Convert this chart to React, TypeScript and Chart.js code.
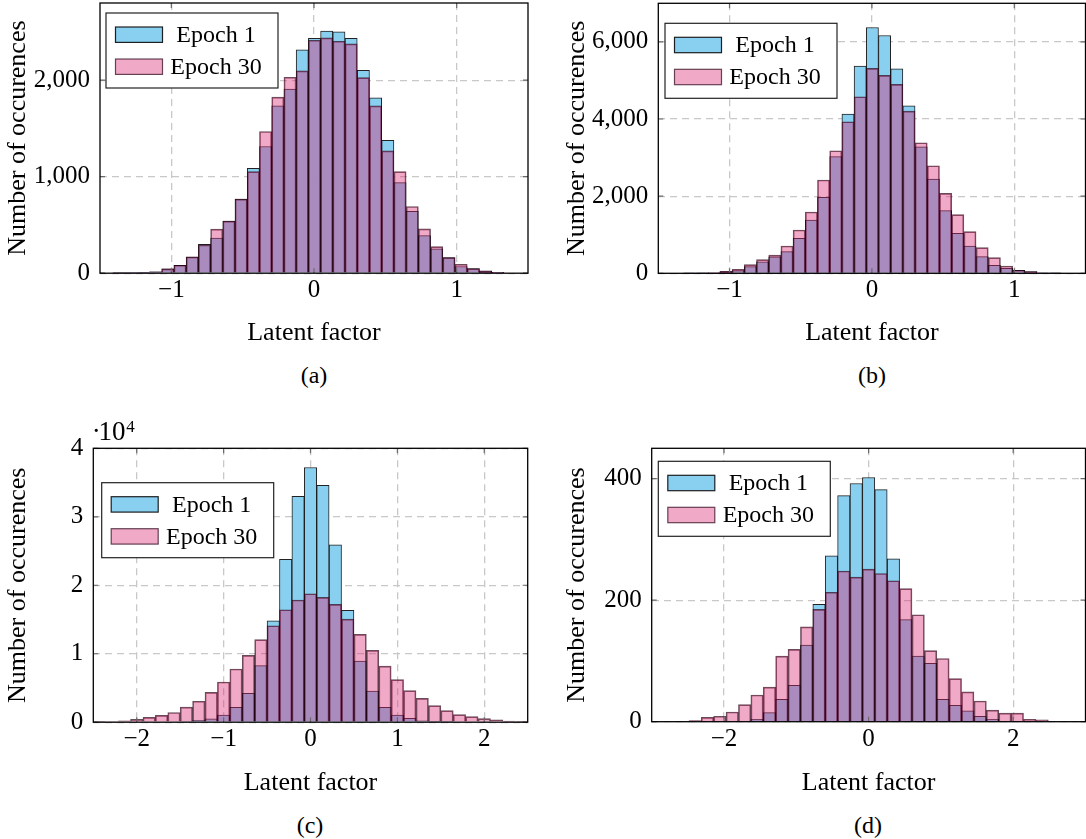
import React, { useEffect, useRef } from 'react';
import { Chart, registerables } from 'chart.js';

Chart.register(...registerables);

const SERIF = '"Liberation Serif", "Times New Roman", Times, serif';

// Bin centres of the histograms in panels (a) and (b)
const binsAB = [
  -1.3672, -1.2815, -1.1958, -1.1102, -1.0245, -0.9389, -0.8532, -0.7676,
  -0.6819, -0.5962, -0.5106, -0.4249, -0.3393, -0.2536, -0.1679, -0.0823,
  0.0034, 0.089, 0.1747, 0.2603, 0.346, 0.4317, 0.5173, 0.603,
  0.6886, 0.7743, 0.86, 0.9456, 1.0313, 1.1169, 1.2026, 1.2882,
];
// Bin centres for panel (c)
const binsC = [
  -2.4286, -2.2857, -2.1429, -2.0, -1.8571, -1.7143, -1.5714, -1.4286, -1.2857,
  -1.1429, -1.0, -0.8571, -0.7143, -0.5714, -0.4286, -0.2857, -0.1429, 0.0,
  0.1429, 0.2857, 0.4286, 0.5714, 0.7143, 0.8571, 1.0, 1.1429, 1.2857, 1.4286,
  1.5714, 1.7143, 1.8571, 2.0, 2.1429, 2.2857, 2.4286,
];
// Bin centres for panel (d)
const binsD = [
  -2.9143, -2.7429, -2.5714, -2.4, -2.2286, -2.0571, -1.8857, -1.7143, -1.5429,
  -1.3714, -1.2, -1.0286, -0.8571, -0.6857, -0.5143, -0.3429, -0.1714, 0.0,
  0.1714, 0.3429, 0.5143, 0.6857, 0.8571, 1.0286, 1.2, 1.3714, 1.5429, 1.7143,
  1.8857, 2.0571, 2.2286, 2.4, 2.5714, 2.7429, 2.9143,
];

// Occurrence counts per bin
const epoch1A = [1, 3, 6, 15, 45, 82, 168, 298, 363, 539, 767, 1088, 1313, 1734, 1907, 2314, 2435, 2508, 2501, 2435, 2103, 1817, 1378, 939, 642, 390, 252, 162, 69, 48, 21, 7];
const epoch30A = [1, 3, 6, 15, 45, 82, 170, 293, 456, 539, 767, 1053, 1468, 1824, 2031, 2097, 2414, 2438, 2404, 2376, 2027, 1734, 1268, 1053, 691, 459, 276, 162, 93, 48, 24, 8];

const epoch1B = [0, 1, 4, 14, 45, 69, 173, 300, 428, 561, 907, 1382, 1969, 3023, 4128, 5372, 6373, 6166, 5303, 4344, 3282, 2444, 1624, 1036, 708, 432, 207, 130, 78, 43, 8, 2];
const epoch30B = [0, 2, 6, 17, 52, 104, 225, 355, 470, 708, 1123, 1589, 2418, 3178, 3929, 4577, 5311, 5130, 4897, 4206, 3385, 2789, 2073, 1520, 1080, 665, 406, 190, 78, 43, 12, 4];

const epoch1C = [0, 0, 0, 0, 0, 0, 0, 100, 280, 480, 1050, 2180, 4220, 8260, 14820, 23780, 32980, 37200, 34580, 25910, 16330, 8940, 4560, 2180, 1050, 570, 200, 50, 20, 0, 0, 0, 0, 0, 0];
const epoch30C = [50, 100, 200, 420, 700, 1000, 1420, 2200, 3060, 4350, 5870, 7770, 9770, 12050, 14090, 16420, 17840, 18760, 18230, 17200, 15060, 12830, 10490, 8200, 6210, 4600, 3490, 2420, 1680, 1100, 810, 520, 330, 150, 50];

const epoch1D = [0, 0, 0, 0, 0, 0, 0, 1, 4, 15, 37, 60, 126, 193, 273, 372, 392, 402, 382, 268, 168, 108, 96, 37, 27, 18, 9, 4, 1, 0, 0, 0, 0, 0, 0];
const epoch30D = [0, 0, 1, 2, 7, 9, 16, 28, 44, 57, 108, 119, 156, 185, 213, 248, 238, 251, 244, 232, 219, 176, 117, 104, 71, 49, 34, 19, 14, 14, 4, 3, 0, 0, 0];

// Tick values
const xTicksAB = [-1, 0, 1];
const xTicksC = [-2, -1, 0, 1, 2];
const xTicksD = [-2, 0, 2];
const yTicksA = [0, 1000, 2000];
const yTicksB = [0, 2000, 4000, 6000];
const yTicksC = [0, 10000, 20000, 30000, 40000];
const yTicksD = [0, 200, 400];

const seriesLabels = ['Epoch 1', 'Epoch 30'];
const xTitle = 'Latent factor';
const yTitle = 'Number of occurences';

const BLUE = 'rgb(137, 207, 240)';
const BLUE_EDGE = 'rgba(10, 10, 10, 0.9)';
const PINK = 'rgba(217, 40, 112, 0.4)';
const PINK_EDGE = 'rgba(40, 0, 20, 0.7)';
const GRID = '#c8c8c8';

const withCommas = (v: number) => String(v).replace(/\B(?=(\d{3})+(?!\d))/g, ',');
const signed = (v: number) => (v < 0 ? '\u2212' + Math.abs(v) : String(v));

type Box = { L: number; T: number; R: number; B: number };
type Rect = { left: number; top: number; width: number; height: number };

type PanelSpec = {
  caption: string;
  bins: number[];
  epoch1: number[];
  epoch30: number[];
  xMin: number;
  xMax: number;
  yMax: number;
  xTicks: number[];
  yTicks: number[];
  yFormat: (v: number) => string;
  canvas: Rect;
  box: Box;
  yTitleX: number;
  xTitleY: number;
  captionX: number;
  captionY: number;
  legend: { dx: number; dy: number };
  multiplier: boolean;
};

const panels: PanelSpec[] = [
  {
    caption: '(a)', bins: binsAB, epoch1: epoch1A, epoch30: epoch30A,
    xMin: -1.5, xMax: 1.5, yMax: 2800, xTicks: xTicksAB, yTicks: yTicksA, yFormat: withCommas,
    canvas: { left: 0, top: 0, width: 543, height: 360 },
    box: { L: 100, T: 3, R: 528, B: 273.2 },
    yTitleX: 18, xTitleY: 333, captionX: 314, captionY: 375,
    legend: { dx: 6, dy: 10 }, multiplier: false,
  },
  {
    caption: '(b)', bins: binsAB, epoch1: epoch1B, epoch30: epoch30B,
    xMin: -1.5, xMax: 1.5, yMax: 7000, xTicks: xTicksAB, yTicks: yTicksB, yFormat: withCommas,
    canvas: { left: 543, top: 0, width: 543, height: 360 },
    box: { L: 658.3, T: 3.3, R: 1085.5, B: 273.3 },
    yTitleX: 577, xTitleY: 333, captionX: 872, captionY: 375,
    legend: { dx: 6.7, dy: 20 }, multiplier: false,
  },
  {
    caption: '(c)', bins: binsC, epoch1: epoch1C, epoch30: epoch30C,
    xMin: -2.5, xMax: 2.5, yMax: 40000, xTicks: xTicksC, yTicks: yTicksC, yFormat: (v) => String(v / 10000),
    canvas: { left: 0, top: 400, width: 543, height: 410 },
    box: { L: 93.3, T: 448.3, R: 527.7, B: 722.2 },
    yTitleX: 18, xTitleY: 783, captionX: 310, captionY: 825,
    legend: { dx: 8.4, dy: 34.4 }, multiplier: true,
  },
  {
    caption: '(d)', bins: binsD, epoch1: epoch1D, epoch30: epoch30D,
    xMin: -3, xMax: 3, yMax: 450, xTicks: xTicksD, yTicks: yTicksD, yFormat: (v) => String(v),
    canvas: { left: 543, top: 400, width: 543, height: 410 },
    box: { L: 651.7, T: 448.3, R: 1085.5, B: 721.7 },
    yTitleX: 577, xTitleY: 783, captionX: 868, captionY: 825,
    legend: { dx: 6.6, dy: 13 }, multiplier: false,
  },
];

// Frame, inner tick marks, in-plot legend and the axis multiplier
const decorPlugin = {
  id: 'panelDecor',
  afterDraw(chart: any, _args: any, opts: any) {
    const { ctx, chartArea: a } = chart;
    const xs = chart.scales.x;
    const ys = chart.scales.y;
    ctx.save();

    // inner tick marks on all four sides
    ctx.strokeStyle = '#6a6a6a';
    ctx.lineWidth = 1.2;
    ctx.beginPath();
    for (const t of xs.ticks) {
      const px = xs.getPixelForValue(t.value);
      ctx.moveTo(px, a.bottom); ctx.lineTo(px, a.bottom - 5);
      ctx.moveTo(px, a.top); ctx.lineTo(px, a.top + 5);
    }
    for (const t of ys.ticks) {
      const py = ys.getPixelForValue(t.value);
      ctx.moveTo(a.left, py); ctx.lineTo(a.left + 5, py);
      ctx.moveTo(a.right, py); ctx.lineTo(a.right - 5, py);
    }
    ctx.stroke();

    // frame
    ctx.strokeStyle = '#000';
    ctx.lineWidth = 1.3;
    ctx.strokeRect(a.left, a.top, a.right - a.left, a.bottom - a.top);

    // legend
    const lg = opts.legend;
    const bx = a.left + lg.dx;
    const by = a.top + lg.dy;
    const bw = 172;
    const bh = 75;
    ctx.fillStyle = '#fff';
    ctx.fillRect(bx, by, bw, bh);
    ctx.strokeStyle = '#222';
    ctx.lineWidth = 1.2;
    ctx.strokeRect(bx, by, bw, bh);
    const order = [1, 0];
    order.forEach((di: number, row: number) => {
      const ds = chart.data.datasets[di];
      const cy = by + 21.7 + row * 32;
      ctx.fillStyle = ds.backgroundColor;
      ctx.fillRect(bx + 9.5, cy - 7.7, 47, 15.4);
      ctx.strokeStyle = ds.borderColor;
      ctx.lineWidth = 1.2;
      ctx.strokeRect(bx + 9.5, cy - 7.7, 47, 15.4);
      ctx.fillStyle = '#000';
      ctx.font = `24px ${SERIF}`;
      ctx.textAlign = 'center';
      ctx.textBaseline = 'middle';
      ctx.fillText(ds.label, bx + 110, cy + 1);
    });

    // ·10^4 multiplier above the y axis
    if (opts.multiplier) {
      ctx.fillStyle = '#000';
      ctx.textAlign = 'left';
      ctx.textBaseline = 'alphabetic';
      ctx.font = `27px ${SERIF}`;
      ctx.fillText('\u00b7', a.left - 1.5, a.top - 8.3);
      ctx.fillText('10', a.left + 5.2, a.top - 8.3);
      ctx.font = `17px ${SERIF}`;
      ctx.fillText('4', a.left + 33, a.top - 16.6);
    }
    ctx.restore();
  },
};

function buildConfig(p: PanelSpec): any {
  const c = p.canvas;
  const b = p.box;
  const titleSize = 26;
  const titleLH = titleSize * 1.2;
  const tickFont = { family: SERIF, size: 25, lineHeight: 1.2 };
  const titleFont = { family: SERIF, size: titleSize, lineHeight: 1.2 };
  const gridOpts = { color: GRID, lineWidth: 1.3, drawTicks: false, offset: false };
  const borderOpts = { display: false, dash: [7, 5] };

  return {
    type: 'bar',
    data: {
      datasets: [
        {
          label: seriesLabels[1],
          data: p.bins.map((x, i) => ({ x, y: p.epoch30[i] })),
          backgroundColor: PINK,
          borderColor: PINK_EDGE,
          borderWidth: 1,
          grouped: false,
          order: 1,
          barPercentage: 1,
          categoryPercentage: 1,
        },
        {
          label: seriesLabels[0],
          data: p.bins.map((x, i) => ({ x, y: p.epoch1[i] })),
          backgroundColor: BLUE,
          borderColor: BLUE_EDGE,
          borderWidth: 1,
          grouped: false,
          order: 2,
          barPercentage: 1,
          categoryPercentage: 1,
        },
      ],
    },
    options: {
      responsive: false,
      animation: false,
      devicePixelRatio: 1,
      layout: {
        padding: { left: 0, top: b.T - c.top, right: c.left + c.width - b.R, bottom: 0 },
      },
      plugins: {
        legend: { display: false },
        tooltip: { enabled: false },
        panelDecor: { legend: p.legend, multiplier: p.multiplier },
      },
      scales: {
        x: {
          type: 'linear',
          min: p.xMin,
          max: p.xMax,
          offset: false,
          grid: gridOpts,
          border: borderOpts,
          ticks: {
            font: tickFont,
            color: '#000',
            padding: 2.5,
            maxRotation: 0,
            autoSkip: false,
            callback: (v: number) => signed(v),
          },
          afterBuildTicks: (s: any) => {
            s.ticks = p.xTicks.map((v) => ({ value: v }));
          },
          afterFit: (s: any) => {
            s.height = c.top + c.height - b.B;
            s.paddingLeft = 0;
            s.paddingRight = 0;
          },
          title: {
            display: true,
            text: xTitle,
            color: '#000',
            font: titleFont,
            padding: { top: 0, bottom: c.top + c.height - p.xTitleY - titleLH / 2 },
          },
        },
        y: {
          type: 'linear',
          min: 0,
          max: p.yMax,
          grid: gridOpts,
          border: borderOpts,
          ticks: {
            font: tickFont,
            color: '#000',
            padding: 10,
            autoSkip: false,
            callback: (v: number) => p.yFormat(v),
          },
          afterBuildTicks: (s: any) => {
            s.ticks = p.yTicks.map((v) => ({ value: v }));
          },
          afterFit: (s: any) => {
            s.width = b.L - c.left;
            s.paddingTop = 0;
            s.paddingBottom = 0;
          },
          title: {
            display: true,
            text: yTitle,
            color: '#000',
            font: titleFont,
            padding: { top: p.yTitleX - c.left - titleLH / 2, bottom: 0 },
          },
        },
      },
    },
    plugins: [decorPlugin],
  };
}

function HistogramPanel({ spec }: { spec: PanelSpec }) {
  const ref = useRef<HTMLCanvasElement>(null);
  useEffect(() => {
    if (!ref.current) return;
    const chart = new Chart(ref.current, buildConfig(spec));
    return () => chart.destroy();
  }, [spec]);
  const c = spec.canvas;
  return (
    <canvas
      ref={ref}
      width={c.width}
      height={c.height}
      style={{ position: 'absolute', left: c.left, top: c.top, width: c.width, height: c.height }}
    />
  );
}

export default function App() {
  return (
    <div
      style={{
        position: 'absolute',
        left: 0,
        top: 0,
        width: 1086,
        height: 839,
        overflow: 'hidden',
        background: '#fff',
        fontFamily: SERIF,
      }}
    >
      {panels.map((p) => (
        <HistogramPanel key={p.caption} spec={p} />
      ))}
      {panels.map((p) => (
        <div
          key={'caption' + p.caption}
          style={{
            position: 'absolute',
            left: p.captionX - 40,
            top: p.captionY - 14,
            width: 80,
            textAlign: 'center',
            fontSize: 24,
            lineHeight: '28px',
            color: '#000',
          }}
        >
          {p.caption}
        </div>
      ))}
    </div>
  );
}
